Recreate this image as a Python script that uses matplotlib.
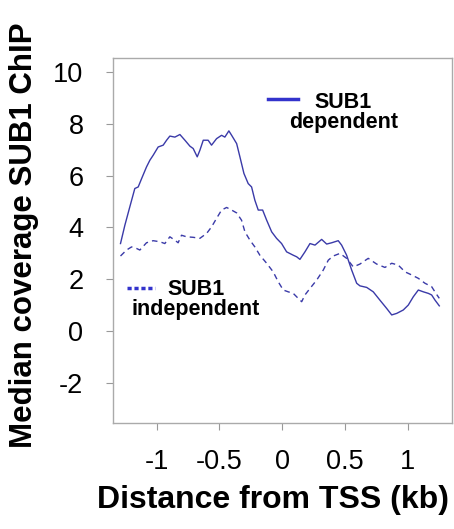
import numpy as np
import matplotlib
matplotlib.use('Agg')
import matplotlib.pyplot as plt

plt.rcParams['font.family'] = ['Liberation Sans', 'DejaVu Sans']
plt.rcParams['axes.unicode_minus'] = False

############### data
dep_x = [-1.288, -1.253, -1.214, -1.174, -1.147, -1.120, -1.081, -1.054, -1.028, -0.988,
         -0.948, -0.921, -0.895, -0.855, -0.815, -0.775, -0.735, -0.709, -0.677, -0.656,
         -0.629, -0.590, -0.563, -0.523, -0.483, -0.457, -0.425, -0.403, -0.363, -0.337,
         -0.305, -0.271, -0.244, -0.218, -0.191, -0.156, -0.124, -0.084, -0.045, -0.005,
         0.035, 0.088, 0.115, 0.141, 0.181, 0.221, 0.261, 0.314, 0.354, 0.394,
         0.446, 0.473, 0.513, 0.553, 0.593, 0.619, 0.673, 0.725, 0.778, 0.832,
         0.872, 0.912, 0.964, 1.004, 1.044, 1.084, 1.124, 1.164, 1.190, 1.217, 1.251]
dep_y = [3.38, 4.09, 4.79, 5.50, 5.56, 5.88, 6.33, 6.59, 6.78, 7.10,
         7.17, 7.36, 7.52, 7.48, 7.58, 7.36, 7.13, 7.04, 6.72, 6.97,
         7.36, 7.36, 7.17, 7.42, 7.55, 7.48, 7.72, 7.55, 7.23, 6.72,
         6.08, 5.69, 5.56, 5.05, 4.67, 4.67, 4.28, 3.83, 3.58, 3.38,
         3.06, 2.93, 2.87, 2.77, 3.06, 3.38, 3.32, 3.54, 3.36, 3.41,
         3.49, 3.32, 2.93, 2.36, 1.85, 1.75, 1.69, 1.52, 1.20, 0.88,
         0.63, 0.69, 0.82, 1.01, 1.33, 1.59, 1.52, 1.46, 1.40, 1.20, 0.98]

indep_x = [-1.288, -1.240, -1.200, -1.160, -1.134, -1.081, -1.028, -0.975, -0.935, -0.895,
           -0.855, -0.829, -0.802, -0.762, -0.709, -0.656, -0.602, -0.563, -0.523, -0.483,
           -0.443, -0.403, -0.363, -0.324, -0.297, -0.257, -0.218, -0.178, -0.124, -0.072,
           -0.032, 0.008, 0.048, 0.088, 0.127, 0.155, 0.181, 0.221, 0.274, 0.327,
           0.367, 0.406, 0.460, 0.513, 0.566, 0.619, 0.685, 0.752, 0.818, 0.872,
           0.924, 0.978, 1.031, 1.084, 1.137, 1.190, 1.224, 1.251]
indep_y = [2.90, 3.13, 3.25, 3.19, 3.13, 3.41, 3.49, 3.45, 3.38, 3.64,
           3.51, 3.41, 3.70, 3.64, 3.62, 3.58, 3.77, 4.02, 4.35, 4.67,
           4.77, 4.67, 4.56, 4.28, 3.83, 3.51, 3.25, 2.93, 2.62, 2.29,
           1.91, 1.59, 1.52, 1.46, 1.27, 1.14, 1.40, 1.65, 1.97, 2.36,
           2.74, 2.90, 3.00, 2.81, 2.48, 2.59, 2.81, 2.59, 2.46, 2.62,
           2.55, 2.29, 2.17, 2.04, 1.85, 1.72, 1.46, 1.27]

xticks = [-1, -0.5, 0, 0.5, 1]
xticklabels = ['-1', '-0.5', '0', '0.5', '1']
yticks = [-2, 0, 2, 4, 6, 8, 10]

line_col = '#3a3aa8'
leg_col = '#3333cc'

############### plot
fig = plt.figure(figsize=(4.54, 5.29), dpi=100)
ax = fig.add_axes([0.248, 0.201, 0.747, 0.689])

ax.plot(dep_x, dep_y, color=line_col, lw=1.0)
ax.plot(indep_x, indep_y, color=line_col, lw=1.0, ls=(0, (4, 3)))

ax.set_xlim(-1.351, 1.350)
ax.set_ylim(-3.52, 10.52)
ax.set_xticks(xticks)
ax.set_xticklabels(xticklabels)
ax.set_yticks(yticks)

for s in ax.spines.values():
    s.set_color('#aaaaaa')
    s.set_linewidth(1.0)
ax.tick_params(axis='both', direction='out', length=5, width=0.8, color='#999999',
               labelsize=19.5)
ax.tick_params(axis='y', pad=16)
ax.tick_params(axis='x', pad=14)

ax.set_xlabel('Distance from TSS (kb)', fontsize=23, fontweight='bold', va='center')
ax.xaxis.set_label_coords(0.474, -0.212)
ax.set_ylabel('Median coverage SUB1 ChIP', fontsize=22.5, fontweight='bold', va='center')
ax.yaxis.set_label_coords(-0.262, 0.515)

# legend, drawn by hand
ax.plot([0.458, 0.547], [0.888, 0.888], transform=ax.transAxes, color=leg_col, lw=2.5)
ax.text(0.681, 0.852, 'SUB1\ndependent', transform=ax.transAxes, ha='center',
        va='center', multialignment='center', linespacing=0.95,
        fontsize=15.5, fontweight='bold')
ax.plot([0.042, 0.125], [0.369, 0.369], transform=ax.transAxes, color=leg_col, lw=2.5,
        ls=(0, (1.2, 0.8)))
ax.text(0.245, 0.337, 'SUB1\nindependent', transform=ax.transAxes, ha='center',
        va='center', multialignment='center', linespacing=0.95,
        fontsize=15.5, fontweight='bold')

fig.savefig('out.png', dpi=100)
